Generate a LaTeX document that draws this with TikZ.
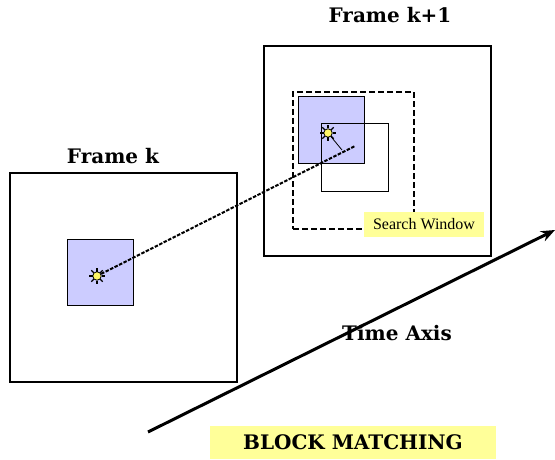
\documentclass[tikz,border=0pt]{standalone}
\usepackage{fontspec}
\setmainfont{DejaVu Serif}
\newfontfamily\lserif{Liberation Serif}
\usetikzlibrary{arrows.meta}
\definecolor{blockblue}{HTML}{CCCCFF}
\definecolor{labelyellow}{HTML}{FFFF99}
\tikzset{
  frame/.style={draw, line width=2pt, minimum width=227pt, minimum height=209pt, inner sep=0pt},
  blockbox/.style={draw, line width=1pt, fill=blockblue, minimum width=66pt, minimum height=66pt, inner sep=0pt},
  candbox/.style={draw, line width=1pt, minimum width=67pt, minimum height=67pt, inner sep=0pt},
  searchbox/.style={draw, line width=2.5pt, dash pattern=on 6pt off 3pt, minimum width=121pt, minimum height=137pt, inner sep=0pt},
  yellowlabel/.style={fill=labelyellow, inner sep=0pt},
  title/.style={font=\bfseries\fontsize{20}{22}\selectfont},
  sun/.style={circle, draw, line width=0.8pt, fill=yellow!60, minimum size=8.5pt, inner sep=0pt},
  motion/.style={line width=2pt, dash pattern=on 3.5pt off 1.5pt},
}
\newcommand{\sunspikes}[1]{%
  \foreach \a in {0,45,...,315}{\draw[line width=1.3pt] (#1.center) ++(\a:4.5pt) -- ++(\a:3.5pt);}}
\begin{document}
\begin{tikzpicture}[x=1pt,y=-1pt]
\useasboundingbox (0,0) rectangle (555,460);
% frames
\node[frame] (frameA) at (123.5,277.5) {};
\node[frame] (frameB) at (377.5,151) {};
\node[title] (labA) at (113,156) {Frame k};
\node[title] (labB) at (390,15) {Frame k+1};
% search window
\node[searchbox] (search) at (353.5,160.5) {};
\node[yellowlabel, minimum width=120pt, minimum height=25pt] (swlabel) at (424,224.5) {\lserif\fontsize{16}{18}\selectfont Search Window};
% blocks
\node[blockbox] (blockA) at (100,272) {};
\node[blockbox] (blockB) at (331.5,130) {};
\node[candbox] (cand) at (354.5,157.5) {};
% suns
\node[sun] (sunA) at (97,276) {};
\node[sun] (sunB) at (328,133) {};
\sunspikes{sunA}
\sunspikes{sunB}
% motion vector
\coordinate (mvEnd) at (355,146);
\coordinate (mvFoot) at (342,150);
\draw[motion] (sunA) -- (mvEnd);
\draw[line width=0.8pt] (sunB) -- (mvFoot);
% time axis
\coordinate (tStart) at (148,432);
\coordinate (tEnd) at (555,230);
\draw[line width=3pt, -{Stealth[length=14pt,width=11pt]}] (tStart) -- (tEnd);
\node[title] (timeaxis) at (397,333) {Time Axis};
% block matching label
\node[yellowlabel, minimum width=286pt, minimum height=33pt, title] (bm) at (353,442.5) {BLOCK MATCHING};
\end{tikzpicture}
\end{document}
